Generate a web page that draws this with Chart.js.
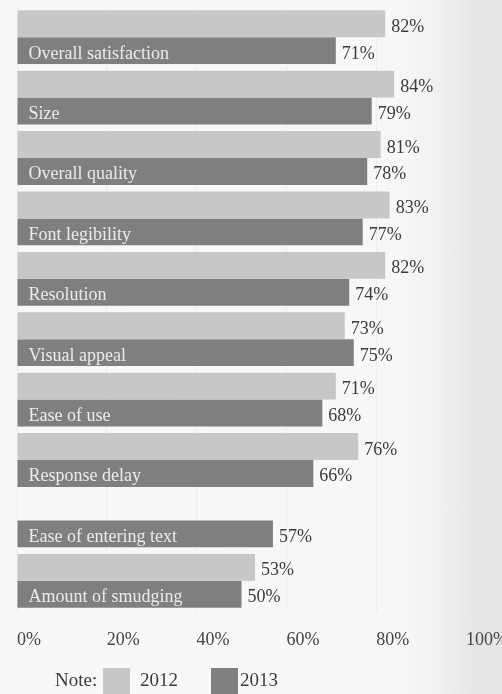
<!DOCTYPE html>
<html><head><meta charset="utf-8">
<script src="https://cdn.jsdelivr.net/npm/chart.js@4.4.1/dist/chart.umd.min.js"></script>
<style>
html,body{margin:0;padding:0;width:502px;height:694px;overflow:hidden;
background:linear-gradient(to right,#f8f8f6 0,#f7f7f6 400px,#eef0f1 440px,#e3e5e7 475px,#e6e7e9 502px);}
canvas{display:block}
</style></head><body>
<canvas id="c" width="502" height="694"></canvas>
<script>
const categories = ['Overall satisfaction','Size','Overall quality','Font legibility','Resolution','Visual appeal','Ease of use','Response delay','Ease of entering text','Amount of smudging'];
const values2012 = [82,84,81,83,82,73,71,76,null,53];
const values2013 = [71,79,78,77,74,75,68,66,57,50];
const tickValues = [0,20,40,60,80,100];
const seriesNames = ['2012','2013'];
const noteLabel = 'Note:';

const COLORS = {light:'#c6c8c8', dark:'#7e807f'};
const SERIF = "'Liberation Serif','Times New Roman',serif";

const labelPlugin = {
  id:'labels',
  afterDatasetsDraw(chart){
    const ctx = chart.ctx;
    ctx.save();
    ctx.textBaseline = 'alphabetic';
    ctx.textAlign = 'left';
    ctx.font = '18px ' + SERIF;
    chart.data.datasets.forEach((ds, di) => {
      const meta = chart.getDatasetMeta(di);
      meta.data.forEach((bar, i) => {
        const v = ds.data[i];
        if (v == null) return;
        ctx.fillStyle = '#3b3b3b';
        ctx.fillText(v + '%', bar.x + 6, bar.y + 8);
        if (di === 1) {
          ctx.fillStyle = '#ebebea';
          ctx.fillText(categories[i], bar.base + 11, bar.y + 8);
        }
      });
    });
    // legend
    const left = chart.chartArea.left;
    const H = chart.height;
    ctx.font = '19px ' + SERIF;
    ctx.fillStyle = '#3b3b3b';
    ctx.fillText(noteLabel, left + 38, 686);
    const boxes = [{x:left + 86, c:COLORS.light}, {x:left + 194, c:COLORS.dark}];
    boxes.forEach((b, k) => {
      ctx.fillStyle = b.c;
      ctx.fillRect(b.x, 668, 27, H - 668);
      ctx.fillStyle = '#3b3b3b';
      ctx.fillText(seriesNames[k], b.x + (k === 0 ? 37 : 29), 686);
    });
    ctx.restore();
  }
};

new Chart(document.getElementById('c'), {
  type:'bar',
  data:{
    labels: categories,
    datasets:[
      {label:seriesNames[0], data:values2012, backgroundColor:COLORS.light, borderWidth:0, barPercentage:1, categoryPercentage:0.89},
      {label:seriesNames[1], data:values2013, backgroundColor:COLORS.dark, borderWidth:0, barPercentage:1, categoryPercentage:0.89}
    ]
  },
  options:{
    indexAxis:'y',
    responsive:false,
    animation:false,
    layout:{padding:{left:17, right:36, top:7, bottom:0}},
    plugins:{legend:{display:false}, tooltip:{enabled:false}},
    scales:{
      x:{
        min:0, max:100,
        afterBuildTicks(scale){ scale.ticks = tickValues.map(v => ({value:v})); },
        ticks:{align:'start', padding:18, color:'#444', font:{family:SERIF, size:18}, callback:v => v + '%'},
        grid:{color:'#ececea', drawTicks:false},
        border:{display:false},
        afterFit(s){ s.height = 83; s.paddingLeft = 0; s.paddingRight = 0; }
      },
      y:{display:false}
    }
  },
  plugins:[labelPlugin]
});
</script>
</body></html>
